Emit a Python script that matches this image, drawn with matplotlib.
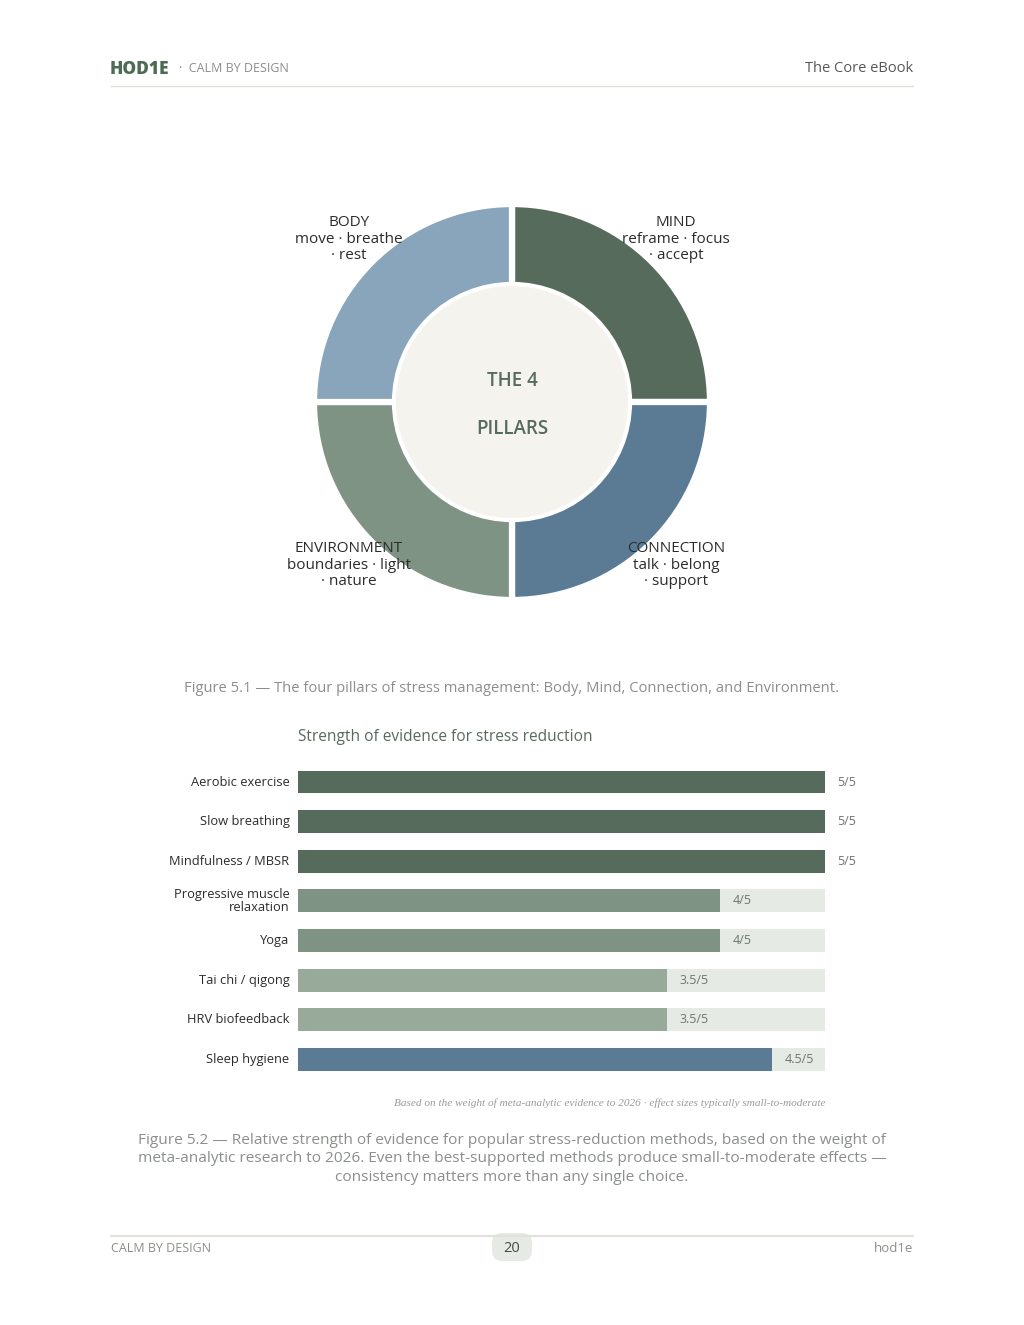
import numpy as np
import matplotlib.pyplot as plt
from matplotlib.patches import Circle, FancyBboxPatch

plt.rcParams['font.family'] = ['Open Sans', 'DejaVu Sans']

W, H = 1024, 1325

# donut data
pillars = ["MIND", "CONNECTION", "ENVIRONMENT", "BODY"]
pillar_words = ["reframe · focus\n· accept", "talk · belong\n· support",
                "boundaries · light\n· nature", "move · breathe\n· rest"]
pillar_share = [1, 1, 1, 1]
pillar_colors = ["#566b5c", "#5b7b94", "#7e9383", "#88a5bb"]

# bar data
methods = ["Aerobic exercise", "Slow breathing", "Mindfulness / MBSR",
           "Progressive muscle\nrelaxation", "Yoga", "Tai chi / qigong",
           "HRV biofeedback", "Sleep hygiene"]
scores = [5, 5, 5, 4, 4, 3.5, 3.5, 4.5]
score_labels = ["5/5", "5/5", "5/5", "4/5", "4/5", "3.5/5", "3.5/5", "4.5/5"]
bar_colors = ["#566b5c", "#566b5c", "#566b5c", "#7e9383", "#7e9383",
              "#98aa99", "#98aa99", "#5b7b94"]
max_score = 5

fig = plt.figure(figsize=(W / 100, H / 100), dpi=100)
fig.patch.set_facecolor("white")


def px(x, y):
    return x / W, 1 - y / H


# header
fig.text(*px(110, 69), "HOD1E", fontsize=12.5, fontweight="heavy", color="#4d6b55", va="center")
fig.text(*px(179, 69), "·  CALM BY DESIGN", fontsize=9, color="#8a8f8a", va="center")
fig.text(*px(913, 69), "The Core eBook", fontsize=10.5, color="#555a55", va="center", ha="right")
fig.add_artist(plt.Line2D([111 / W, 913 / W], [1 - 86 / H] * 2, color="#e2e2da", lw=1))

# donut
cx, cy, R, r_in = 512, 402, 198, 117
half = 220
axd = fig.add_axes([(cx - half) / W, 1 - (cy + half) / H, 2 * half / W, 2 * half / H])
axd.pie(pillar_share, colors=pillar_colors, startangle=90, counterclock=False, radius=1,
        wedgeprops=dict(width=(R - r_in) / R, edgecolor="white", linewidth=4.5))
axd.add_patch(Circle((0, 0), r_in / R, facecolor="#f5f3ee", edgecolor="white", lw=1.5, zorder=3))
lim = half / R
axd.set_xlim(-lim, lim)
axd.set_ylim(-lim, lim)
axd.set_aspect("equal")
axd.axis("off")
axd.text(0, (402 - 381) / R, "THE 4", ha="center", va="center", fontsize=13.5,
         fontweight="semibold", color="#566b5c", zorder=4)
axd.text(0, (402 - 429) / R, "PILLARS", ha="center", va="center", fontsize=13.5,
         fontweight="semibold", color="#566b5c", zorder=4)
label_pos = [(676, 239), (676, 565), (349, 565), (349, 239)]
for name, words, (lx, ly) in zip(pillars, pillar_words, label_pos):
    axd.text((lx - cx) / R, (cy - ly) / R, name + "\n" + words, ha="center", va="center",
             fontsize=11, color="#2b2b2b", linespacing=1.1, zorder=5)

fig.text(*px(512, 688), "Figure 5.1 — The four pillars of stress management: Body, Mind, Connection, and Environment.",
         ha="center", va="center", fontsize=10.65, color="#8a8f8a")

# bars
step = 39.65
top = 782 - step / 2
axb = fig.add_axes([298 / W, 1 - (top + step * 8) / H, 527 / W, step * 8 / H])
y = np.arange(len(methods))
axb.barh(y, [max_score] * len(methods), height=0.58, color="#e5ebe4")
axb.barh(y, scores, height=0.58, color=bar_colors)
axb.set_xlim(0, max_score)
axb.set_ylim(len(methods) - 0.5, -0.5)
axb.axis("off")
for i, (m, s, lab) in enumerate(zip(methods, scores, score_labels)):
    axb.text(-0.08, i, m, ha="right", va="center", fontsize=9.3, color="#2b2b2b", linespacing=0.95)
    axb.text(s + 0.12, i, lab, ha="left", va="center", fontsize=9, color="#6e766f")

fig.text(*px(298, 737), "Strength of evidence for stress reduction", fontsize=11.2, color="#566b5c", va="center")
fig.text(*px(825, 1103), "Based on the weight of meta-analytic evidence to 2026 · effect sizes typically small-to-moderate",
         ha="right", va="center", fontsize=8.1, color="#9a9a9a", family="Liberation Serif", style="italic")

fig.text(*px(512, 1159),
         "Figure 5.2 — Relative strength of evidence for popular stress-reduction methods, based on the weight of\n"
         "meta-analytic research to 2026. Even the best-supported methods produce small-to-moderate effects —\n"
         "consistency matters more than any single choice.",
         ha="center", va="center", fontsize=11.1, color="#8a8f8a", linespacing=1.28)

# footer
fig.add_artist(plt.Line2D([111 / W, 913 / W], [1 - 1236 / H] * 2, color="#e2e2da", lw=1.5))
fig.add_artist(FancyBboxPatch(((512 - 14) / W, 1 - (1247 + 6) / H), 28 / W, 12 / H,
                              boxstyle="round,pad=0.006,rounding_size=0.009",
                              transform=fig.transFigure, facecolor="#e5ebe4", edgecolor="none"))
fig.text(*px(512, 1248), "20", ha="center", va="center", fontsize=10.5, color="#444a44")
fig.text(*px(111, 1248), "CALM BY DESIGN", fontsize=9, color="#8a8f8a", va="center")
fig.text(*px(913, 1248), "hod1e", fontsize=9.5, color="#8a8f8a", va="center", ha="right")

fig.savefig("out.png", dpi=100, facecolor="white")
